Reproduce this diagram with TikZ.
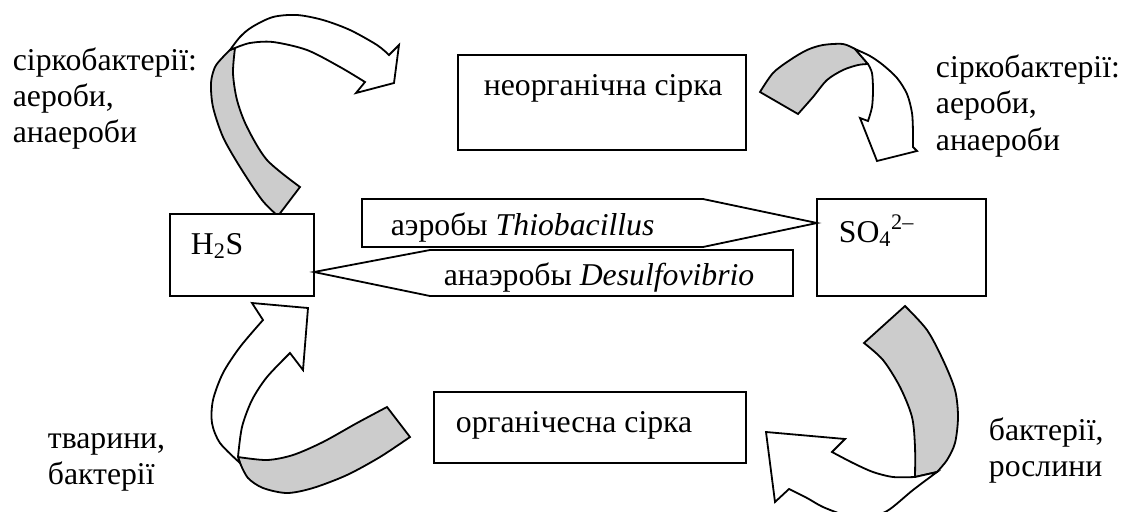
\documentclass[tikz,border=0pt]{standalone}
\usepackage{fontspec}
\setmainfont{Liberation Serif}
\definecolor{bandgray}{HTML}{CCCCCC}
\begin{document}
\begin{tikzpicture}[x=0.75pt,y=-0.75pt,line width=1.35pt,
  boxst/.style={draw,fill=white,inner sep=0pt},
  lbl/.style={anchor=base west,inner sep=0pt,font=\fontsize{23.8}{28}\selectfont},
  band/.style={draw,fill=bandgray},
  head/.style={draw,fill=white},
  callst/.style={draw,fill=white}]
\useasboundingbox (0,0) rectangle (1124,511);
\begin{scope}
\clip (0,0) rectangle (1124,511);
% arrow top-left (H2S -> inorganic sulphur)
\draw[band] plot[smooth] coordinates {(278,216) (262,200) (240,167) (223,137) (213,107) (211,83) (215,67) (223,57) (230,50)}
  -- plot[smooth] coordinates {(235,48) (233,73) (237,100) (247,127) (267,160) (300,187)} -- cycle;
\draw[head] plot[smooth] coordinates {(230,50) (240,37) (252,27) (273,17) (297,15) (323,20) (350,30) (377,45) (389,55)}
  -- (399,45) -- (394,83) -- (356,93)
  -- plot[smooth] coordinates {(365,82) (340,67) (307,50) (273,42) (250,43) (235,48)} -- cycle;
% arrow top-right (inorganic -> SO4)
\draw[band] plot[smooth] coordinates {(760,92) (773,73) (790,60) (807,50) (823,45) (843,44) (855,49)}
  -- plot[smooth] coordinates {(868,64) (858,65) (843,70) (827,80) (813,97) (798,114)} -- cycle;
\draw[head] plot[smooth] coordinates {(855,49) (870,56) (883,65) (897,78) (907,94) (912,113) (913,133) (913,147)}
  -- (917,151) -- (877,161) -- (860,118)
  -- plot[smooth] coordinates {(868,121) (872,107) (873,90) (872,73) (868,64)} -- cycle;
% arrow bottom-left (organic -> H2S)
\draw[band] plot[smooth] coordinates {(410,437) (380,457) (347,475) (313,488) (287,493) (263,488) (248,478) (240,463)}
  -- plot[smooth] coordinates {(238,457) (267,460) (293,455) (323,442) (357,423) (387,407)} -- cycle;
\draw[head] plot[smooth] coordinates {(240,463) (220,443) (212,423) (213,400) (223,373) (240,347) (263,320)}
  -- (252,303) -- (308,308) -- (303,370)
  -- plot[smooth] coordinates {(290,353) (267,377) (252,400) (242,427) (238,457)} -- cycle;
% arrow bottom-right (SO4 -> organic)
\draw[band] plot[smooth] coordinates {(905,306) (927,330) (943,360) (955,390) (958,417) (955,443) (947,460) (937,472)}
  -- plot[smooth] coordinates {(915,477) (915,447) (912,417) (900,387) (883,360) (864,343)} -- cycle;
\draw[head] plot[smooth] coordinates {(915,477) (893,477) (873,472) (853,463) (832,452)}
  -- (845,439) -- (766,432) -- (775,502)
  -- plot[smooth] coordinates {(789,489) (807,498) (823,507) (845,515) (865,517) (887,511) (913,490) (937,472)} -- cycle;
\end{scope}
% boxes
\node[boxst,minimum width=108pt,minimum height=61.5pt] (h2s) at (242,255) {};
\node[boxst,minimum width=216pt,minimum height=71.25pt] (inorg) at (602,102.5) {};
\node[boxst,minimum width=126.75pt,minimum height=72.75pt] (so4) at (901.5,247.5) {};
\node[boxst,minimum width=234pt,minimum height=53.25pt] (org) at (590,427.5) {};
% callouts
\coordinate (aerotip) at (817,223);
\coordinate (anaerotip) at (314,272);
\draw[callst] (362,199) -- (703,199) -- (aerotip) -- (703,247) -- (362,247) -- cycle;
\draw[callst] (430,250) -- (793,250) -- (793,296) -- (430,296) -- (anaerotip) -- cycle;
% texts
\node[lbl] (h2sT) at (190,254) {H\textsubscript{2}S};
\node[lbl] (so4T) at (838,242) {SO\textsubscript{4}\textsuperscript{2–}};
\node[lbl] (inorgT) at (483,95) {неорганічна сірка};
\node[lbl] (orgT) at (455,432) {органічесна сірка};
\node[lbl] (aeroT) at (390,235) {аэробы \textit{Thiobacillus}};
\node[lbl] (anaeroT) at (443,285) {анаэробы \textit{Desulfovibrio}};
\node[lbl] (l1) at (12,70) {сіркобактерії:};
\node[lbl] (l2) at (12,106) {аероби,};
\node[lbl] (l3) at (12,142) {анаероби};
\node[lbl] (r1) at (935,77) {сіркобактерії:};
\node[lbl] (r2) at (935,113) {аероби,};
\node[lbl] (r3) at (935,150) {анаероби};
\node[lbl] (bl1) at (47,448) {тварини,};
\node[lbl] (bl2) at (47,484) {бактерії};
\node[lbl] (br1) at (988,440) {бактерії,};
\node[lbl] (br2) at (988,476) {рослини};
\end{tikzpicture}
\end{document}
